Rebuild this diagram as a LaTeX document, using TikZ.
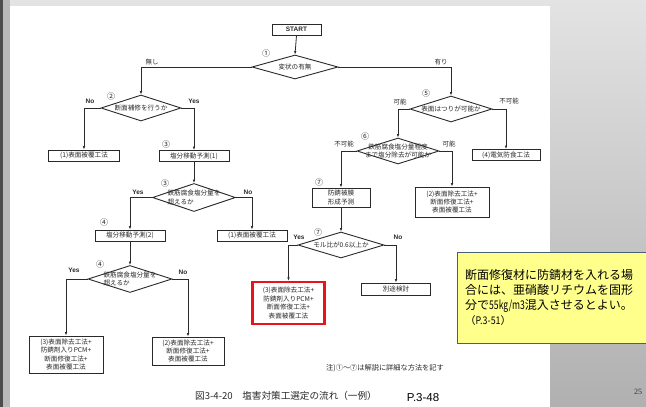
\documentclass[tikz,border=0pt]{standalone}
\usepackage{fontspec}
\setmainfont{Liberation Sans}
\newfontfamily\jp{Noto Sans CJK JP}
\newfontfamily\serifnum{Liberation Serif}
\usetikzlibrary{shapes.geometric,arrows.meta}
\definecolor{ink}{HTML}{2A2A2A}
\definecolor{yel}{HTML}{FFFF8C}
\definecolor{yelb}{HTML}{4A5E7A}
\definecolor{redb}{HTML}{E8141B}
\begin{document}
\begin{tikzpicture}[x=1pt,y=-1pt,
  box/.style={draw=ink, line width=0.9pt, inner sep=0pt, font=\jp\fontsize{6.6}{8.4}\selectfont, text=ink, align=center},
  dia/.style={draw=ink, line width=0.9pt, diamond, inner sep=0pt},
  dtext/.style={inner sep=0pt, font=\jp\fontsize{6.6}{8.4}\selectfont, text=ink},
  lab/.style={inner sep=0pt, font=\jp\fontsize{6.5}{7}\selectfont, text=ink},
  num/.style={inner sep=0pt, font=\jp\fontsize{8}{8}\selectfont, text=ink},
  yn/.style={inner sep=0pt, font=\fontsize{6.5}{7}\selectfont\bfseries, text=ink},
  arr/.style={draw=ink, line width=0.8pt, -{Latex[length=3.5pt,width=2.6pt]}}
]
\useasboundingbox (0,0) rectangle (646,407);
% background
\shade[top color=gray!22, bottom color=gray!62] (0,0) rectangle (646,407);
\fill[gray!55] (0,0) rectangle (10,407);
\fill[black!70] (0,0) rectangle (3,407);
\fill[white] (10,6) rectangle (550,407);

% nodes
\node[box, minimum width=49pt, minimum height=11pt, font=\fontsize{6.5}{7}\selectfont\bfseries] (start) at (296.5,29.5) {START};
\node[dia, minimum width=86pt, minimum height=24pt] (d1) at (295,67) {};
\node[dtext] (d1t) at (d1) {変状の有無};
\node[dia, minimum width=80pt, minimum height=26pt] (d2) at (141,108) {};
\node[dtext] (d2t) at (d2) {断面補修を行うか};
\node[box, minimum width=71pt, minimum height=11pt] (b1) at (84,155.5) {(1)表面被覆工法};
\node[box, minimum width=70pt, minimum height=11pt] (b2) at (194,156) {塩分移動予測(1)};
\node[dia, minimum width=83pt, minimum height=28pt] (d3) at (194,197.5) {};
\node[dtext, align=left] (d3t) at (d3) {鉄筋腐食塩分量を\\超えるか};
\node[box, minimum width=70pt, minimum height=11pt] (b3) at (130,235.5) {塩分移動予測(2)};
\node[box, minimum width=70pt, minimum height=11pt] (b4) at (252,235.5) {(1)表面被覆工法};
\node[dia, minimum width=84pt, minimum height=27pt] (d4) at (130,279) {};
\node[dtext, align=left] (d4t) at (d4) {鉄筋腐食塩分量を\\超えるか};
\node[box, minimum width=74pt, minimum height=37pt] (b5) at (66,354.5) {(3)表面除去工法+\\防錆剤入りPCM+\\断面修復工法+\\表面被覆工法};
\node[box, minimum width=72pt, minimum height=28pt] (b6) at (188,351) {(2)表面除去工法+\\断面修復工法+\\表面被覆工法};

\node[dia, minimum width=82pt, minimum height=26pt] (d5) at (451,109) {};
\node[dtext] (d5t) at (d5) {表面はつりが可能か};
\node[dia, minimum width=82pt, minimum height=26pt] (d6) at (398,151) {};
\node[dtext, align=center] (d6t) at (d6) {鉄筋腐食塩分量程度\\まで塩分除去が可能か};
\node[box, minimum width=68pt, minimum height=11pt] (b9) at (506,155) {(4)電気防食工法};
\node[box, minimum width=58pt, minimum height=19pt] (b7) at (341,197.5) {防錆被膜\\形成予測};
\node[box, minimum width=74pt, minimum height=30pt] (b8) at (452,202) {(2)表面除去工法+\\断面修復工法+\\表面被覆工法};
\node[dia, minimum width=86pt, minimum height=26pt] (d7) at (341,245) {};
\node[dtext] (d7t) at (d7) {モル比が0.6以上か};
\node[box, draw=redb, line width=2.4pt, minimum width=72pt, minimum height=42pt] (b10) at (288.5,303) {(3)表面除去工法+\\防錆剤入りPCM+\\断面修復工法+\\表面被覆工法};
\node[box, minimum width=69pt, minimum height=12pt] (b11) at (396,289) {別途検討};

% connectors
\draw[arr] (start.south) -- (d1.north);
\draw[arr] (d1.west) -| (d2.north);
\draw[arr] (d1.east) -| (d5.north);
\draw[arr] (d2.west) -| (b1.north);
\draw[arr] (d2.east) -| (b2.north);
\draw[arr] (b2.south) -- (d3.north);
\draw[arr] (d3.west) -| (b3.north);
\draw[arr] (d3.east) -| (b4.north);
\draw[arr] (b3.south) -- (d4.north);
\draw[arr] (d4.west) -| (b5.north);
\draw[arr] (d4.east) -| (b6.north);
\draw[arr] (d5.west) -| (d6.north);
\draw[arr] (d5.east) -| (b9.north);
\draw[arr] (d6.west) -| (b7.north);
\draw[arr] (d6.east) -| (b8.north);
\draw[arr] (b7.south) -- (d7.north);
\draw[arr] (d7.west) -| (b10.north);
\draw[arr] (d7.east) -| (b11.north);

% labels
\node[num] (n1) at (266,53) {①};
\node[lab] (l1a) at (152,62) {無し};
\node[lab] (l1b) at (441,62) {有り};
\node[num] (n2) at (111,96) {②};
\node[yn] (l2a) at (90,101) {No};
\node[yn] (l2b) at (194,101) {Yes};
\node[num] (n3a) at (166,144) {③};
\node[num] (n3b) at (165,183) {③};
\node[yn] (l3a) at (138,192) {Yes};
\node[yn] (l3b) at (248,192) {No};
\node[num] (n4a) at (104,222) {④};
\node[num] (n4b) at (100,264) {④};
\node[yn] (l4a) at (74,270) {Yes};
\node[yn] (l4b) at (183,272) {No};
\node[num] (n5) at (426,93) {⑤};
\node[lab] (l5a) at (400,102) {可能};
\node[lab] (l5b) at (509,101) {不可能};
\node[num] (n6) at (365,136) {⑥};
\node[lab] (l6a) at (344,144) {不可能};
\node[lab] (l6b) at (449,144) {可能};
\node[num] (n7a) at (319,182) {⑦};
\node[num] (n7b) at (318,232) {⑦};
\node[yn] (l7a) at (299,237) {Yes};
\node[yn] (l7b) at (398,237) {No};

\node[inner sep=0pt, font=\jp\fontsize{7.2}{8}\selectfont, text=ink] (note) at (385,368) {注)①〜⑦は解説に詳細な方法を記す};
\node[inner sep=0pt, font=\jp\fontsize{9.6}{10}\selectfont, text=ink] (cap) at (286,396) {図3-4-20　塩害対策工選定の流れ（一例）};
\node[inner sep=0pt, font=\fontsize{11.5}{12}\selectfont, text=black] (page) at (423,398) {P.3-48};
\node[inner sep=0pt, font=\serifnum\fontsize{8}{9}\selectfont, text=black!80] (slno) at (638,392) {25};

% yellow note
\node[draw=yelb, fill=yel, line width=1.1pt, minimum width=192pt, minimum height=91pt, anchor=north west, inner sep=0pt] (ybox) at (457,252) {};
\node[anchor=north west, inner sep=0pt, align=left, font=\jp\fontsize{12}{15}\selectfont, text=black] (ytext) at (465,269) {断面修復材に防錆材を入れる場\\合には、亜硝酸リチウムを固形\\分で\scalebox{0.72}[1]{55kg/m3}混入させるとよい。\\{\fontsize{10.5}{15}\selectfont （\scalebox{0.85}[1]{P.3-51}）}};
\end{tikzpicture}
\end{document}
